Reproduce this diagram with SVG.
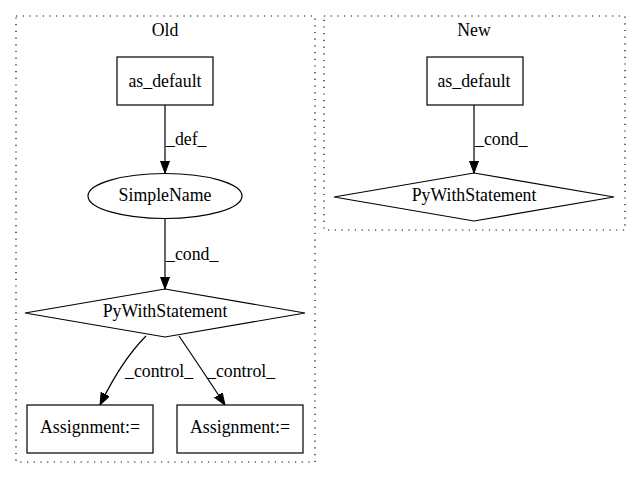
<svg xmlns="http://www.w3.org/2000/svg" width="640" height="480" viewBox="0 0 640 480">
<style>
text{font-family:"Liberation Serif","Times New Roman",serif;font-size:17.8px;fill:#000}
.c{text-anchor:middle}
.cl{fill:none;stroke:#000;stroke-width:1.2;stroke-dasharray:1.2,5.5}
.n{fill:#fff;stroke:#000;stroke-width:1.2}
.e{fill:none;stroke:#000;stroke-width:1.2}
</style>
<defs>
<marker id="ah" markerUnits="userSpaceOnUse" markerWidth="14" markerHeight="12" refX="12" refY="4.5" orient="auto">
<polygon points="0,0 12,4.5 0,9" fill="#000" stroke="#000"/>
</marker>
</defs>
<rect width="640" height="480" fill="#fff"/>
<g id="cluster_old">
<rect class="cl" x="16" y="16" width="299" height="446"/>
<text class="c" x="165" y="36">Old</text>
</g>
<g id="cluster_new">
<rect class="cl" x="324" y="16" width="301" height="214"/>
<text class="c" x="474" y="36">New</text>
</g>
<g id="edges">
<path class="e" d="M165,105 L165,173" marker-end="url(#ah)"/>
<text x="166" y="145">_def_</text>
<path class="e" d="M165,218 L165,289" marker-end="url(#ah)"/>
<text x="166" y="260">_cond_</text>
<path class="e" d="M146,336 C132,350 116,372 100,405" marker-end="url(#ah)"/>
<text x="125" y="377">_control_</text>
<path class="e" d="M179,336 C192,355 210,382 225,405" marker-end="url(#ah)"/>
<text x="207" y="377">_control_</text>
<path class="e" d="M474,105 L474,173" marker-end="url(#ah)"/>
<text x="475" y="145">_cond_</text>
</g>
<g id="old_as_default">
<rect class="n" x="117" y="57" width="96" height="48"/>
<text class="c" x="165" y="87">as_default</text>
</g>
<g id="old_simplename">
<ellipse class="n" cx="165" cy="196" rx="77" ry="22.5"/>
<text class="c" x="165" y="201">SimpleName</text>
</g>
<g id="old_pywith">
<polygon class="n" points="165,289 305,313 165,337 25,313"/>
<text class="c" x="165" y="317">PyWithStatement</text>
</g>
<g id="old_assign1">
<rect class="n" x="27" y="405" width="126" height="48"/>
<text class="c" x="90" y="433">Assignment:=</text>
</g>
<g id="old_assign2">
<rect class="n" x="177" y="405" width="126" height="48"/>
<text class="c" x="240" y="433">Assignment:=</text>
</g>
<g id="new_as_default">
<rect class="n" x="427" y="57" width="96" height="48"/>
<text class="c" x="474" y="87">as_default</text>
</g>
<g id="new_pywith">
<polygon class="n" points="474,173 614,197 474,221 334,197"/>
<text class="c" x="474" y="201">PyWithStatement</text>
</g>
</svg>
